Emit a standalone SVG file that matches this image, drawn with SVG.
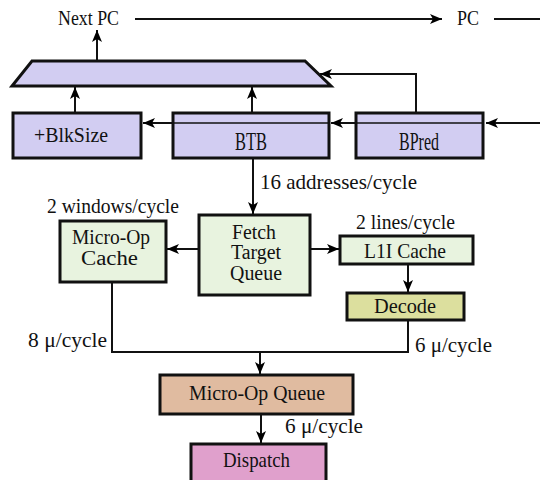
<svg xmlns="http://www.w3.org/2000/svg" width="540" height="480" viewBox="0 0 540 480">
<defs>
<marker id="ah" markerUnits="userSpaceOnUse" markerWidth="12" markerHeight="10" refX="12" refY="5" orient="auto">
<path d="M0,0 L12,5 L0,10 L3,5 z" fill="#000"/>
</marker>
<style>
text{font-family:'Liberation Serif','Times New Roman',Times,serif;font-size:21px;fill:#111}
.big{font-size:26px}
.sm{font-size:20px}
.box{stroke:#111;stroke-width:3}
.lav{fill:#d2cdf2}
.grn{fill:#e8f3df}
.dec{fill:#dcdf9e}
.muq{fill:#e0bba0}
.dis{fill:#e0a0cc}
.c{fill:none;stroke:#111;stroke-width:2}
.ca{fill:none;stroke:#111;stroke-width:2;marker-end:url(#ah)}
.inner{stroke:#111;stroke-width:1.5}
</style>
</defs>
<rect width="540" height="480" fill="#fff"/>

<g id="connectors">
<line class="ca" x1="135" y1="19" x2="442" y2="19"/>
<line class="c" x1="494" y1="19" x2="540" y2="19"/>
<line class="ca" x1="97" y1="61" x2="97" y2="30"/>
<line class="ca" x1="75" y1="113" x2="75" y2="87"/>
<line class="ca" x1="252" y1="113" x2="252" y2="87"/>
<polyline class="ca" points="416,113 416,74 320,74"/>
<line class="ca" x1="540" y1="123" x2="486" y2="123"/>
<line class="ca" x1="356" y1="123" x2="331" y2="123"/>
<line class="ca" x1="173" y1="123" x2="143" y2="123"/>
<line class="ca" x1="253" y1="159" x2="253" y2="214"/>
<line class="ca" x1="199" y1="249" x2="167" y2="249"/>
<line class="ca" x1="310" y1="249" x2="339" y2="249"/>
<line class="ca" x1="408" y1="264" x2="408" y2="292"/>
<polyline class="c" points="112,282 112,352 408,352 408,320"/>
<line class="ca" x1="260" y1="352" x2="260" y2="374"/>
<line class="ca" x1="261" y1="414" x2="261" y2="443"/>
</g>

<g id="mux">
<polygon class="box lav" points="32,61 305,61 331,86 12,86"/>
</g>

<g id="blksize">
<rect class="box lav" x="13" y="113" width="128" height="45"/>
<text x="34" y="142" textLength="74" lengthAdjust="spacingAndGlyphs">+BlkSize</text>
</g>

<g id="btb">
<rect class="box lav" x="173" y="113" width="156" height="45"/>
<line class="inner" x1="173" y1="123" x2="329" y2="123"/>
<text class="big" x="235" y="150" textLength="32" lengthAdjust="spacingAndGlyphs">BTB</text>
</g>

<g id="bpred">
<rect class="box lav" x="356" y="113" width="127" height="45"/>
<line class="inner" x1="356" y1="123" x2="483" y2="123"/>
<text class="big" x="399" y="150" textLength="40" lengthAdjust="spacingAndGlyphs">BPred</text>
</g>

<g id="uopcache">
<rect class="box grn" x="60" y="221" width="106" height="61"/>
<text class="sm" x="72" y="244" textLength="78" lengthAdjust="spacingAndGlyphs">Micro-Op</text>
<text class="sm" x="81" y="265" textLength="57" lengthAdjust="spacingAndGlyphs">Cache</text>
</g>

<g id="ftq">
<rect class="box grn" x="199" y="215" width="111" height="80"/>
<text class="sm" x="232" y="239" textLength="44" lengthAdjust="spacingAndGlyphs">Fetch</text>
<text class="sm" x="231" y="259" textLength="50" lengthAdjust="spacingAndGlyphs">Target</text>
<text class="sm" x="230" y="280" textLength="52" lengthAdjust="spacingAndGlyphs">Queue</text>
</g>

<g id="l1i">
<rect class="box grn" x="340" y="236" width="133" height="28"/>
<text x="364" y="258" textLength="82" lengthAdjust="spacingAndGlyphs">L1I Cache</text>
</g>

<g id="decode">
<rect class="box dec" x="347" y="293" width="117" height="27"/>
<text x="374" y="313" textLength="62" lengthAdjust="spacingAndGlyphs">Decode</text>
</g>

<g id="uopqueue">
<rect class="box muq" x="160" y="375" width="193" height="39"/>
<text x="189" y="400" textLength="136" lengthAdjust="spacingAndGlyphs">Micro-Op Queue</text>
</g>

<g id="dispatch">
<rect class="box dis" x="191" y="444" width="135" height="50"/>
<text x="223" y="467" textLength="67" lengthAdjust="spacingAndGlyphs">Dispatch</text>
</g>

<g id="labels">
<text x="58" y="25" textLength="61" lengthAdjust="spacingAndGlyphs">Next PC</text>
<text x="457" y="25" textLength="22" lengthAdjust="spacingAndGlyphs">PC</text>
<text x="260" y="189" textLength="157" lengthAdjust="spacingAndGlyphs">16 addresses/cycle</text>
<text x="47" y="213" textLength="132" lengthAdjust="spacingAndGlyphs">2 windows/cycle</text>
<text x="356" y="229" textLength="99" lengthAdjust="spacingAndGlyphs">2 lines/cycle</text>
<text x="28" y="347" textLength="79" lengthAdjust="spacingAndGlyphs">8 μ/cycle</text>
<text x="415" y="352" textLength="77" lengthAdjust="spacingAndGlyphs">6 μ/cycle</text>
<text x="285" y="433" textLength="78" lengthAdjust="spacingAndGlyphs">6 μ/cycle</text>
</g>
</svg>
